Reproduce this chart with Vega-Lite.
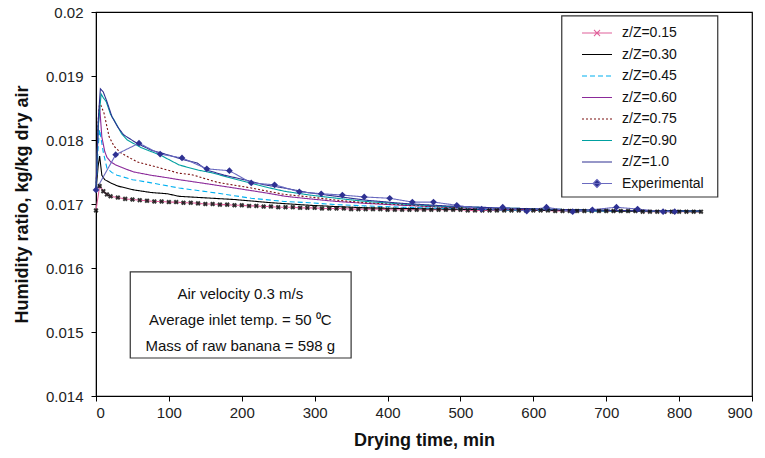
{
  "$schema": "https://vega.github.io/schema/vega-lite/v6.json",
  "width": 656,
  "height": 384,
  "autosize": {"type": "none"},
  "padding": {"left": 96, "top": 12, "right": 13, "bottom": 62},
  "background": "white",
  "config": {
    "font": "Liberation Sans",
    "view": {"stroke": "#000", "strokeWidth": 1.2},
    "axis": {"grid": false, "domainColor": "#000", "tickColor": "#000", "labelColor": "#222", "labelFontSize": 15, "labelFont": "Liberation Sans", "titleFont": "Liberation Sans", "titleFontSize": 18, "titleFontWeight": "bold", "titleColor": "#111", "tickSize": 5},
    "legend": {"labelFont": "Liberation Sans", "labelFontSize": 14, "labelColor": "#111", "orient": "none", "legendX": 484, "legendY": 14, "symbolType": "M-1,0H5", "symbolSize": 100, "labelOffset": 28, "rowPadding": 7.5, "padding": 0}
  },
  "datasets": {
    "lines": [
      {"s":"z/Z=0.15","t":0,"h":0.01690},{"s":"z/Z=0.15","t":5,"h":0.01728},{"s":"z/Z=0.15","t":10,"h":0.01720},{"s":"z/Z=0.15","t":15,"h":0.01715},{"s":"z/Z=0.15","t":20,"h":0.01712},{"s":"z/Z=0.15","t":30,"h":0.01710},{"s":"z/Z=0.15","t":40,"h":0.01708},{"s":"z/Z=0.15","t":50,"h":0.01707},{"s":"z/Z=0.15","t":60,"h":0.01706},{"s":"z/Z=0.15","t":70,"h":0.01705},{"s":"z/Z=0.15","t":80,"h":0.01704},{"s":"z/Z=0.15","t":90,"h":0.01704},{"s":"z/Z=0.15","t":100,"h":0.01703},{"s":"z/Z=0.15","t":110,"h":0.01703},{"s":"z/Z=0.15","t":120,"h":0.01702},{"s":"z/Z=0.15","t":130,"h":0.01702},{"s":"z/Z=0.15","t":140,"h":0.01701},{"s":"z/Z=0.15","t":150,"h":0.01700},{"s":"z/Z=0.15","t":160,"h":0.01700},{"s":"z/Z=0.15","t":170,"h":0.01699},{"s":"z/Z=0.15","t":180,"h":0.01699},{"s":"z/Z=0.15","t":190,"h":0.01698},{"s":"z/Z=0.15","t":200,"h":0.01698},{"s":"z/Z=0.15","t":210,"h":0.01697},{"s":"z/Z=0.15","t":220,"h":0.01697},{"s":"z/Z=0.15","t":230,"h":0.01696},{"s":"z/Z=0.15","t":240,"h":0.01696},{"s":"z/Z=0.15","t":250,"h":0.01695},{"s":"z/Z=0.15","t":260,"h":0.01695},{"s":"z/Z=0.15","t":270,"h":0.01695},{"s":"z/Z=0.15","t":280,"h":0.01694},{"s":"z/Z=0.15","t":290,"h":0.01694},{"s":"z/Z=0.15","t":300,"h":0.01694},{"s":"z/Z=0.15","t":310,"h":0.01693},{"s":"z/Z=0.15","t":320,"h":0.01693},{"s":"z/Z=0.15","t":330,"h":0.01693},{"s":"z/Z=0.15","t":340,"h":0.01693},{"s":"z/Z=0.15","t":350,"h":0.01692},{"s":"z/Z=0.15","t":360,"h":0.01692},{"s":"z/Z=0.15","t":370,"h":0.01692},{"s":"z/Z=0.15","t":380,"h":0.01692},{"s":"z/Z=0.15","t":390,"h":0.01692},{"s":"z/Z=0.15","t":400,"h":0.01691},{"s":"z/Z=0.15","t":410,"h":0.01691},{"s":"z/Z=0.15","t":420,"h":0.01691},{"s":"z/Z=0.15","t":430,"h":0.01691},{"s":"z/Z=0.15","t":440,"h":0.01691},{"s":"z/Z=0.15","t":450,"h":0.01691},{"s":"z/Z=0.15","t":460,"h":0.01691},{"s":"z/Z=0.15","t":470,"h":0.01691},{"s":"z/Z=0.15","t":480,"h":0.01691},{"s":"z/Z=0.15","t":490,"h":0.01691},{"s":"z/Z=0.15","t":500,"h":0.01691},{"s":"z/Z=0.15","t":510,"h":0.01690},{"s":"z/Z=0.15","t":520,"h":0.01690},{"s":"z/Z=0.15","t":530,"h":0.01690},{"s":"z/Z=0.15","t":540,"h":0.01690},{"s":"z/Z=0.15","t":550,"h":0.01690},{"s":"z/Z=0.15","t":560,"h":0.01690},{"s":"z/Z=0.15","t":570,"h":0.01690},{"s":"z/Z=0.15","t":580,"h":0.01690},{"s":"z/Z=0.15","t":590,"h":0.01690},{"s":"z/Z=0.15","t":600,"h":0.01690},{"s":"z/Z=0.15","t":610,"h":0.01690},{"s":"z/Z=0.15","t":620,"h":0.01690},{"s":"z/Z=0.15","t":630,"h":0.01689},{"s":"z/Z=0.15","t":640,"h":0.01689},{"s":"z/Z=0.15","t":650,"h":0.01689},{"s":"z/Z=0.15","t":660,"h":0.01689},{"s":"z/Z=0.15","t":670,"h":0.01689},{"s":"z/Z=0.15","t":680,"h":0.01689},{"s":"z/Z=0.15","t":690,"h":0.01689},{"s":"z/Z=0.15","t":700,"h":0.01689},{"s":"z/Z=0.15","t":710,"h":0.01689},{"s":"z/Z=0.15","t":720,"h":0.01689},{"s":"z/Z=0.15","t":730,"h":0.01689},{"s":"z/Z=0.15","t":740,"h":0.01689},{"s":"z/Z=0.15","t":750,"h":0.01688},{"s":"z/Z=0.15","t":760,"h":0.01688},{"s":"z/Z=0.15","t":770,"h":0.01688},{"s":"z/Z=0.15","t":780,"h":0.01688},{"s":"z/Z=0.15","t":790,"h":0.01688},{"s":"z/Z=0.15","t":800,"h":0.01688},{"s":"z/Z=0.15","t":810,"h":0.01688},{"s":"z/Z=0.15","t":820,"h":0.01688},{"s":"z/Z=0.15","t":830,"h":0.01688},

      {"s":"z/Z=0.30","t":0,"h":0.01720},{"s":"z/Z=0.30","t":3,"h":0.01760},{"s":"z/Z=0.30","t":5,"h":0.01775},{"s":"z/Z=0.30","t":8,"h":0.01745},{"s":"z/Z=0.30","t":12,"h":0.01738},{"s":"z/Z=0.30","t":20,"h":0.01733},{"s":"z/Z=0.30","t":30,"h":0.01728},{"s":"z/Z=0.30","t":52,"h":0.01722},{"s":"z/Z=0.30","t":75,"h":0.01718},{"s":"z/Z=0.30","t":98,"h":0.01716},{"s":"z/Z=0.30","t":114,"h":0.01712},{"s":"z/Z=0.30","t":144,"h":0.01710},{"s":"z/Z=0.30","t":190,"h":0.01707},{"s":"z/Z=0.30","t":240,"h":0.01702},{"s":"z/Z=0.30","t":293,"h":0.01698},{"s":"z/Z=0.30","t":330,"h":0.01696},{"s":"z/Z=0.30","t":370,"h":0.01694},{"s":"z/Z=0.30","t":420,"h":0.01693},{"s":"z/Z=0.30","t":480,"h":0.01692},{"s":"z/Z=0.30","t":550,"h":0.01691},{"s":"z/Z=0.30","t":620,"h":0.01690},{"s":"z/Z=0.30","t":700,"h":0.01689},{"s":"z/Z=0.30","t":830,"h":0.01688},

      {"s":"z/Z=0.45","t":0,"h":0.01720},{"s":"z/Z=0.45","t":3,"h":0.01790},{"s":"z/Z=0.45","t":5,"h":0.01816},{"s":"z/Z=0.45","t":10,"h":0.01781},{"s":"z/Z=0.45","t":15,"h":0.01756},{"s":"z/Z=0.45","t":22,"h":0.01749},{"s":"z/Z=0.45","t":29,"h":0.01745},{"s":"z/Z=0.45","t":50,"h":0.01738},{"s":"z/Z=0.45","t":76,"h":0.01733},{"s":"z/Z=0.45","t":114,"h":0.01725},{"s":"z/Z=0.45","t":166,"h":0.01717},{"s":"z/Z=0.45","t":213,"h":0.01709},{"s":"z/Z=0.45","t":258,"h":0.01704},{"s":"z/Z=0.45","t":293,"h":0.01702},{"s":"z/Z=0.45","t":330,"h":0.01699},{"s":"z/Z=0.45","t":370,"h":0.01697},{"s":"z/Z=0.45","t":420,"h":0.01695},{"s":"z/Z=0.45","t":480,"h":0.01693},{"s":"z/Z=0.45","t":550,"h":0.01691},{"s":"z/Z=0.45","t":620,"h":0.01690},{"s":"z/Z=0.45","t":700,"h":0.01689},{"s":"z/Z=0.45","t":830,"h":0.01689},

      {"s":"z/Z=0.60","t":0,"h":0.01720},{"s":"z/Z=0.60","t":3,"h":0.01820},{"s":"z/Z=0.60","t":5,"h":0.01852},{"s":"z/Z=0.60","t":8,"h":0.01805},{"s":"z/Z=0.60","t":12,"h":0.01782},{"s":"z/Z=0.60","t":15,"h":0.01773},{"s":"z/Z=0.60","t":20,"h":0.01766},{"s":"z/Z=0.60","t":27,"h":0.01761},{"s":"z/Z=0.60","t":40,"h":0.01755},{"s":"z/Z=0.60","t":52,"h":0.01750},{"s":"z/Z=0.60","t":75,"h":0.01745},{"s":"z/Z=0.60","t":98,"h":0.01741},{"s":"z/Z=0.60","t":114,"h":0.01738},{"s":"z/Z=0.60","t":144,"h":0.01733},{"s":"z/Z=0.60","t":190,"h":0.01725},{"s":"z/Z=0.60","t":235,"h":0.01717},{"s":"z/Z=0.60","t":260,"h":0.01712},{"s":"z/Z=0.60","t":293,"h":0.01708},{"s":"z/Z=0.60","t":330,"h":0.01704},{"s":"z/Z=0.60","t":370,"h":0.01701},{"s":"z/Z=0.60","t":420,"h":0.01698},{"s":"z/Z=0.60","t":480,"h":0.01695},{"s":"z/Z=0.60","t":550,"h":0.01692},{"s":"z/Z=0.60","t":620,"h":0.01691},{"s":"z/Z=0.60","t":700,"h":0.01690},{"s":"z/Z=0.60","t":830,"h":0.01689},

      {"s":"z/Z=0.75","t":0,"h":0.01720},{"s":"z/Z=0.75","t":3,"h":0.01830},{"s":"z/Z=0.75","t":5,"h":0.01859},{"s":"z/Z=0.75","t":11,"h":0.01842},{"s":"z/Z=0.75","t":18,"h":0.01805},{"s":"z/Z=0.75","t":25,"h":0.01790},{"s":"z/Z=0.75","t":34,"h":0.01780},{"s":"z/Z=0.75","t":56,"h":0.01766},{"s":"z/Z=0.75","t":89,"h":0.01756},{"s":"z/Z=0.75","t":114,"h":0.01748},{"s":"z/Z=0.75","t":131,"h":0.01746},{"s":"z/Z=0.75","t":166,"h":0.01734},{"s":"z/Z=0.75","t":213,"h":0.01725},{"s":"z/Z=0.75","t":258,"h":0.01715},{"s":"z/Z=0.75","t":293,"h":0.01711},{"s":"z/Z=0.75","t":330,"h":0.01706},{"s":"z/Z=0.75","t":370,"h":0.01702},{"s":"z/Z=0.75","t":420,"h":0.01699},{"s":"z/Z=0.75","t":480,"h":0.01695},{"s":"z/Z=0.75","t":550,"h":0.01693},{"s":"z/Z=0.75","t":620,"h":0.01691},{"s":"z/Z=0.75","t":700,"h":0.01690},{"s":"z/Z=0.75","t":830,"h":0.01689},

      {"s":"z/Z=0.90","t":0,"h":0.01720},{"s":"z/Z=0.90","t":3,"h":0.01820},{"s":"z/Z=0.90","t":7,"h":0.01872},{"s":"z/Z=0.90","t":10,"h":0.01866},{"s":"z/Z=0.90","t":14,"h":0.01860},{"s":"z/Z=0.90","t":20,"h":0.01840},{"s":"z/Z=0.90","t":25,"h":0.01831},{"s":"z/Z=0.90","t":35,"h":0.01810},{"s":"z/Z=0.90","t":43,"h":0.01800},{"s":"z/Z=0.90","t":62,"h":0.01788},{"s":"z/Z=0.90","t":89,"h":0.01776},{"s":"z/Z=0.90","t":114,"h":0.01761},{"s":"z/Z=0.90","t":140,"h":0.01753},{"s":"z/Z=0.90","t":158,"h":0.01749},{"s":"z/Z=0.90","t":194,"h":0.01738},{"s":"z/Z=0.90","t":231,"h":0.01727},{"s":"z/Z=0.90","t":258,"h":0.01720},{"s":"z/Z=0.90","t":293,"h":0.01714},{"s":"z/Z=0.90","t":330,"h":0.01709},{"s":"z/Z=0.90","t":370,"h":0.01704},{"s":"z/Z=0.90","t":420,"h":0.01700},{"s":"z/Z=0.90","t":480,"h":0.01696},{"s":"z/Z=0.90","t":550,"h":0.01694},{"s":"z/Z=0.90","t":620,"h":0.01692},{"s":"z/Z=0.90","t":700,"h":0.01690},{"s":"z/Z=0.90","t":830,"h":0.01689},

      {"s":"z/Z=1.0","t":0,"h":0.01720},{"s":"z/Z=1.0","t":3,"h":0.01830},{"s":"z/Z=1.0","t":6,"h":0.01880},{"s":"z/Z=1.0","t":10,"h":0.01875},{"s":"z/Z=1.0","t":15,"h":0.01860},{"s":"z/Z=1.0","t":22,"h":0.01836},{"s":"z/Z=1.0","t":30,"h":0.01820},{"s":"z/Z=1.0","t":38,"h":0.01808},{"s":"z/Z=1.0","t":56,"h":0.01795},{"s":"z/Z=1.0","t":76,"h":0.01784},{"s":"z/Z=1.0","t":98,"h":0.01777},{"s":"z/Z=1.0","t":121,"h":0.01769},{"s":"z/Z=1.0","t":139,"h":0.01764},{"s":"z/Z=1.0","t":152,"h":0.01753},{"s":"z/Z=1.0","t":176,"h":0.01745},{"s":"z/Z=1.0","t":203,"h":0.01738},{"s":"z/Z=1.0","t":231,"h":0.01730},{"s":"z/Z=1.0","t":258,"h":0.01725},{"s":"z/Z=1.0","t":290,"h":0.01718},{"s":"z/Z=1.0","t":330,"h":0.01712},{"s":"z/Z=1.0","t":370,"h":0.01706},{"s":"z/Z=1.0","t":420,"h":0.01701},{"s":"z/Z=1.0","t":480,"h":0.01697},{"s":"z/Z=1.0","t":550,"h":0.01694},{"s":"z/Z=1.0","t":620,"h":0.01692},{"s":"z/Z=1.0","t":700,"h":0.01690},{"s":"z/Z=1.0","t":830,"h":0.01689},

      {"s":"Experimental","t":0,"h":0.01722},{"s":"Experimental","t":27,"h":0.01777},{"s":"Experimental","t":59,"h":0.01795},{"s":"Experimental","t":88,"h":0.01778},{"s":"Experimental","t":118,"h":0.01772},{"s":"Experimental","t":152,"h":0.01755},{"s":"Experimental","t":183,"h":0.01752},{"s":"Experimental","t":213,"h":0.01733},{"s":"Experimental","t":245,"h":0.01730},{"s":"Experimental","t":279,"h":0.01719},{"s":"Experimental","t":309,"h":0.01716},{"s":"Experimental","t":338,"h":0.01714},{"s":"Experimental","t":368,"h":0.01711},{"s":"Experimental","t":403,"h":0.01709},{"s":"Experimental","t":434,"h":0.01703},{"s":"Experimental","t":463,"h":0.01703},{"s":"Experimental","t":495,"h":0.01698},{"s":"Experimental","t":529,"h":0.01692},{"s":"Experimental","t":558,"h":0.01695},{"s":"Experimental","t":591,"h":0.01689},{"s":"Experimental","t":618,"h":0.01695},{"s":"Experimental","t":654,"h":0.01688},{"s":"Experimental","t":681,"h":0.01691},{"s":"Experimental","t":714,"h":0.01695},{"s":"Experimental","t":743,"h":0.01692},{"s":"Experimental","t":778,"h":0.01688},{"s":"Experimental","t":794,"h":0.01688}
    ],
    "boxes": [
      {"x1": 47, "x2": 350, "y1": 0.014594, "y2": 0.015938},
      {"x1": 639, "x2": 853, "y1": 0.017109, "y2": 0.019938}
    ],
    "notes": [
      {"t": 198, "h": 0.015594, "txt": "Air velocity 0.3 m/s"},
      {"t": 198, "h": 0.015188, "txt": "Average inlet temp. = 50 ⁰C"},
      {"t": 198, "h": 0.014781, "txt": "Mass of raw banana = 598 g"}
    ]
  },
  "layer": [
    {
      "data": {"name": "boxes"},
      "mark": {"type": "rect", "fill": "white", "stroke": "#333", "strokeWidth": 1.2},
      "encoding": {
        "x": {"field": "x1", "type": "quantitative", "scale": {"domain": [0, 900]}},
        "x2": {"field": "x2"},
        "y": {"field": "y1", "type": "quantitative", "scale": {"domain": [0.014, 0.02]}},
        "y2": {"field": "y2"}
      }
    },
    {
      "data": {"name": "lines"},
      "mark": {"type": "line"},
      "encoding": {
        "x": {"field": "t", "type": "quantitative", "scale": {"domain": [0, 900], "nice": false},
          "axis": {"title": "Drying time, min", "values": [0,100,200,300,400,500,600,700,800,900], "labelPadding": 4, "titleY": 44, "titleBaseline": "middle"}},
        "y": {"field": "h", "type": "quantitative", "scale": {"domain": [0.014, 0.02], "nice": false, "zero": false},
          "axis": {"title": "Humidity ratio, kg/kg dry air", "values": [0.014,0.015,0.016,0.017,0.018,0.019,0.02], "format": ".3~f", "labelPadding": 8, "titleX": -74, "titleY": 192, "titleAngle": -90, "titleAlign": "center", "titleBaseline": "middle"}},
        "color": {"field": "s", "type": "nominal",
          "scale": {"domain": ["z/Z=0.15","z/Z=0.30","z/Z=0.45","z/Z=0.60","z/Z=0.75","z/Z=0.90","z/Z=1.0","Experimental"],
                    "range": ["#e0609a","#000000","#00b0f0","#8b2a9a","#7a1010","#00a0a0","#2e3192","#6a6ac0"]},
          "legend": {"title": null, "encode": {"symbols": {"update": {
            "shape": {"signal": "datum.value === 'Experimental' ? 'M-1,0H5M2,-0.8L2.8,0L2,0.8L1.2,0Z' : datum.value === 'z/Z=0.15' ? 'M-1,0H5M1.4,-0.6L2.6,0.6M1.4,0.6L2.6,-0.6' : 'M-1,0H5'"},
            "fill": {"signal": "datum.value === 'Experimental' ? '#2e3192' : 'transparent'"}}}}}},
        "strokeDash": {"field": "s", "type": "nominal",
          "scale": {"domain": ["z/Z=0.15","z/Z=0.30","z/Z=0.45","z/Z=0.60","z/Z=0.75","z/Z=0.90","z/Z=1.0","Experimental"],
                    "range": [[1,0],[1,0],[5,3],[1,0],[2,2],[1,0],[1,0],[1,0]]},
          "legend": {"title": null, "encode": {"symbols": {"update": {
            "shape": {"signal": "datum.value === 'Experimental' ? 'M-1,0H5M2,-0.8L2.8,0L2,0.8L1.2,0Z' : datum.value === 'z/Z=0.15' ? 'M-1,0H5M1.4,-0.6L2.6,0.6M1.4,0.6L2.6,-0.6' : 'M-1,0H5'"},
            "fill": {"signal": "datum.value === 'Experimental' ? '#2e3192' : 'transparent'"}}}}}},
        "strokeWidth": {"field": "s", "type": "ordinal",
          "scale": {"domain": ["z/Z=0.15","z/Z=0.30","z/Z=0.45","z/Z=0.60","z/Z=0.75","z/Z=0.90","z/Z=1.0","Experimental"],
                    "range": [1.1,1.1,1.1,1.1,1.1,1.1,1.9,1.1]},
          "legend": {"title": null, "encode": {"symbols": {"update": {
            "shape": {"signal": "datum.value === 'Experimental' ? 'M-1,0H5M2,-0.8L2.8,0L2,0.8L1.2,0Z' : datum.value === 'z/Z=0.15' ? 'M-1,0H5M1.4,-0.6L2.6,0.6M1.4,0.6L2.6,-0.6' : 'M-1,0H5'"},
            "fill": {"signal": "datum.value === 'Experimental' ? '#2e3192' : 'transparent'"}}}}}},
        "order": {"field": "t", "type": "quantitative"}
      }
    },
    {
      "data": {"name": "lines"},
      "transform": [{"filter": "datum.s === 'z/Z=0.15'"}],
      "mark": {"type": "point", "shape": "cross", "angle": 45, "filled": true, "color": "#111", "size": 26, "opacity": 0.85},
      "encoding": {
        "x": {"field": "t", "type": "quantitative"},
        "y": {"field": "h", "type": "quantitative"}
      }
    },
    {
      "data": {"name": "lines"},
      "transform": [{"filter": "datum.s === 'Experimental'"}],
      "mark": {"type": "point", "shape": "diamond", "filled": true, "color": "#2e3192", "size": 45, "opacity": 1},
      "encoding": {
        "x": {"field": "t", "type": "quantitative"},
        "y": {"field": "h", "type": "quantitative"}
      }
    },
    {
      "data": {"name": "notes"},
      "mark": {"type": "text", "fontSize": 15, "align": "center", "baseline": "middle", "color": "#111", "font": "Liberation Sans"},
      "encoding": {
        "x": {"field": "t", "type": "quantitative"},
        "y": {"field": "h", "type": "quantitative"},
        "text": {"field": "txt"}
      }
    }
  ]
}
